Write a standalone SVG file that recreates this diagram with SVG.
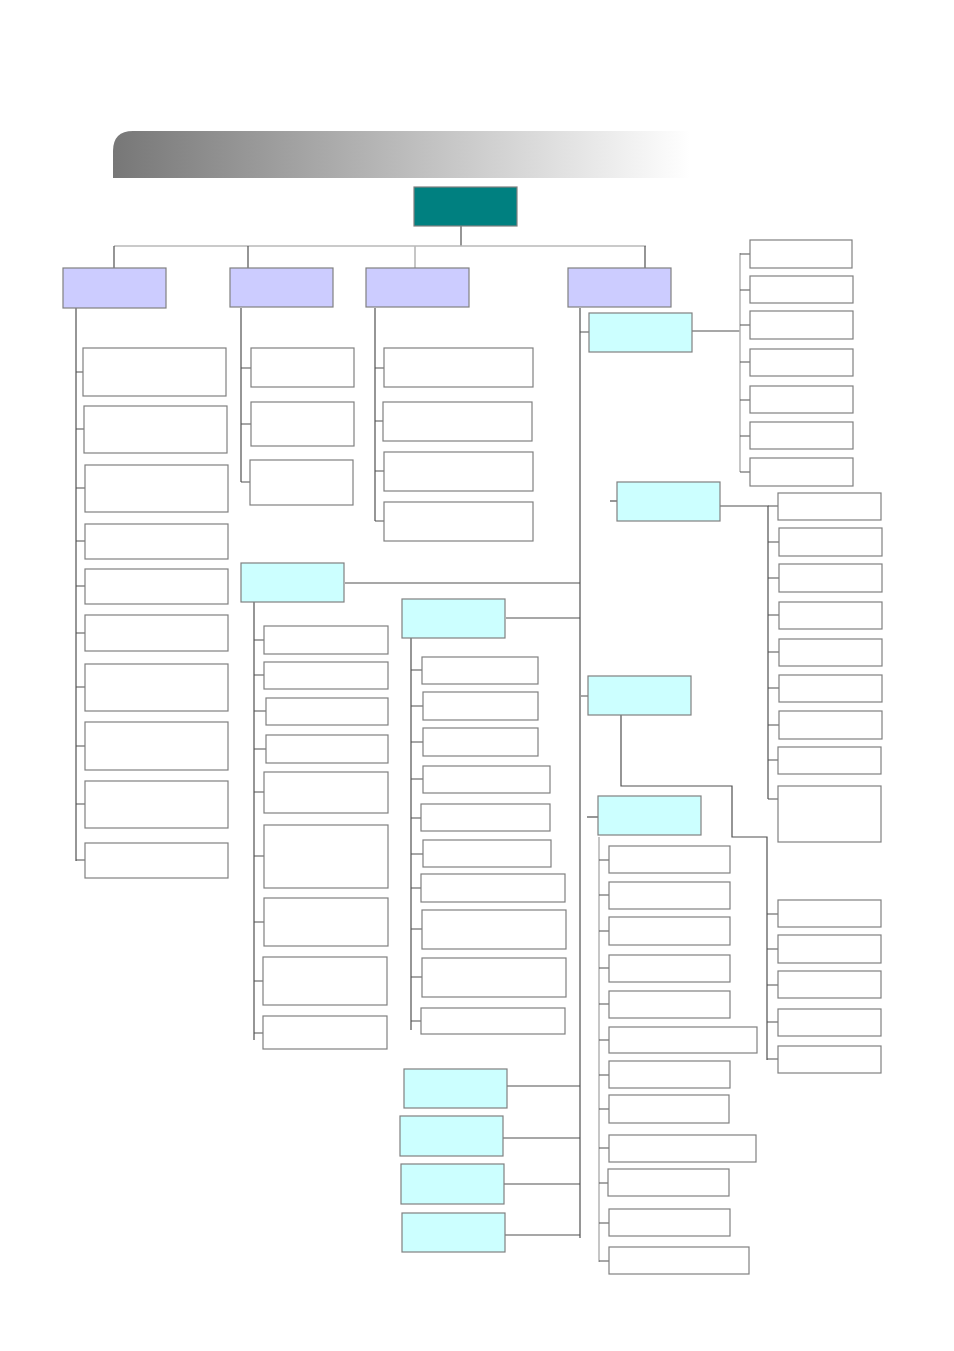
<svg xmlns="http://www.w3.org/2000/svg" width="954" height="1351" viewBox="0 0 954 1351">
<style>
.b{fill:#fff;stroke:#808080;stroke-width:1.2}
.l1{fill:#ccccff;stroke:#808080;stroke-width:1.2}
.c{fill:#ccffff;stroke:#808080;stroke-width:1.2}
.r{fill:#008080;stroke:#808080;stroke-width:1.2}
.ln{fill:none;stroke:#505050;stroke-width:1.2}
.lt{fill:none;stroke:#b8b8b8;stroke-width:1.6}
</style>
<defs>
<linearGradient id="hg" x1="113" y1="0" x2="690" y2="0" gradientUnits="userSpaceOnUse">
<stop offset="0" stop-color="#777"/>
<stop offset="1" stop-color="#fff"/>
</linearGradient>
</defs>
<rect width="954" height="1351" fill="#fff"/>
<path id="header" d="M113,178 V151 Q113,131 133,131 H690 V178 Z" fill="url(#hg)"/>

<g id="connectors">
<path class="ln" d="M461,226 V246"/>
<path class="lt" d="M114,246 H646"/>
<path class="ln" d="M114,246 V268 M248,246 V268 M645,246 V268"/>
<path class="lt" d="M415,246 V268"/>
<!-- column A -->
<path class="ln" d="M76,308 V861"/>
<path class="ln" d="M76,372 H83 M76,429 H84 M76,488 H85 M76,541 H85 M76,586 H85 M76,633 H85 M76,687 H85 M76,746 H85 M76,804 H85 M76,860 H85"/>
<!-- column B -->
<path class="ln" d="M241,308 V482"/>
<path class="ln" d="M241,368 H251 M241,424 H251 M241,482 H250"/>
<!-- column C -->
<path class="ln" d="M375,308 V521"/>
<path class="ln" d="M375,368 H384 M375,421 H383 M375,471 H384 M375,521 H384"/>
<!-- column D -->
<path class="ln" d="M580,308 V1238"/>
<path class="ln" d="M580,332 H589 M581,696 H588"/>
<path class="ln" d="M345,583 H580 M506,618 H580 M507,1086 H580 M503,1138 H580 M504,1184 H580 M505,1235 H580"/>
<!-- D1 -->
<path class="ln" d="M692,331 H740"/>
<path class="lt" d="M740,253 V472"/>
<path class="ln" d="M740,254 H750 M740,290 H750 M740,325 H750 M740,362 H750 M740,400 H750 M740,436 H750 M740,472 H750"/>
<!-- D2 -->
<path class="ln" d="M610,501 H617"/>
<path class="ln" d="M720,506 H768 V799"/>
<path class="ln" d="M768,506 H778 M768,542 H779 M768,578 H779 M768,615 H779 M768,652 H779 M768,688 H779 M768,725 H779 M768,760 H778 M768,799 H778"/>
<!-- D3 -->
<path class="ln" d="M621,715 V786 H732 V837 H767 V1060"/>
<path class="ln" d="M767,914 H778 M767,949 H778 M767,985 H778 M767,1022 H778 M767,1059 H778"/>
<!-- D4 -->
<path class="ln" d="M587,817 H598"/>
<path class="lt" d="M599,837 V1262"/>
<path class="ln" d="M599,860 H609 M599,895 H609 M599,931 H609 M599,968 H609 M599,1004 H609 M599,1040 H609 M599,1075 H609 M599,1109 H609 M599,1148 H609 M599,1183 H608 M599,1223 H609 M599,1261 H609"/>
<!-- F -->
<path class="ln" d="M254,602 V1040"/>
<path class="ln" d="M254,640 H264 M254,675 H264 M254,711 H266 M254,749 H266 M254,792 H264 M254,856 H264 M254,922 H264 M254,981 H263 M254,1033 H263"/>
<!-- G -->
<path class="ln" d="M411,638 V1030"/>
<path class="ln" d="M411,670 H422 M411,706 H423 M411,742 H423 M411,779 H423 M411,818 H421 M411,854 H423 M411,888 H421 M411,929 H422 M411,977 H422 M411,1021 H421"/>
</g>

<g id="root"><rect class="r" x="414" y="187" width="103" height="39"/></g>

<g id="A"><rect class="l1" x="63" y="268" width="103" height="40"/></g>
<g id="B"><rect class="l1" x="230" y="268" width="103" height="39"/></g>
<g id="C"><rect class="l1" x="366" y="268" width="103" height="39"/></g>
<g id="D"><rect class="l1" x="568" y="268" width="103" height="39"/></g>

<g id="A-children">
<rect class="b" x="83" y="348" width="143" height="48"/>
<rect class="b" x="84" y="406" width="143" height="47"/>
<rect class="b" x="85" y="465" width="143" height="47"/>
<rect class="b" x="85" y="524" width="143" height="35"/>
<rect class="b" x="85" y="569" width="143" height="35"/>
<rect class="b" x="85" y="615" width="143" height="36"/>
<rect class="b" x="85" y="664" width="143" height="47"/>
<rect class="b" x="85" y="722" width="143" height="48"/>
<rect class="b" x="85" y="781" width="143" height="47"/>
<rect class="b" x="85" y="843" width="143" height="35"/>
</g>

<g id="B-children">
<rect class="b" x="251" y="348" width="103" height="39"/>
<rect class="b" x="251" y="402" width="103" height="44"/>
<rect class="b" x="250" y="460" width="103" height="45"/>
</g>

<g id="C-children">
<rect class="b" x="384" y="348" width="149" height="39"/>
<rect class="b" x="383" y="402" width="149" height="39"/>
<rect class="b" x="384" y="452" width="149" height="39"/>
<rect class="b" x="384" y="502" width="149" height="39"/>
</g>

<g id="D1"><rect class="c" x="589" y="313" width="103" height="39"/></g>
<g id="D1-children">
<rect class="b" x="750" y="240" width="102" height="28"/>
<rect class="b" x="750" y="276" width="103" height="27"/>
<rect class="b" x="750" y="311" width="103" height="28"/>
<rect class="b" x="750" y="349" width="103" height="27"/>
<rect class="b" x="750" y="386" width="103" height="27"/>
<rect class="b" x="750" y="422" width="103" height="27"/>
<rect class="b" x="750" y="458" width="103" height="28"/>
</g>

<g id="D2"><rect class="c" x="617" y="482" width="103" height="39"/></g>
<g id="D2-children">
<rect class="b" x="778" y="493" width="103" height="27"/>
<rect class="b" x="779" y="528" width="103" height="28"/>
<rect class="b" x="779" y="564" width="103" height="28"/>
<rect class="b" x="779" y="602" width="103" height="27"/>
<rect class="b" x="779" y="639" width="103" height="27"/>
<rect class="b" x="779" y="675" width="103" height="27"/>
<rect class="b" x="779" y="711" width="103" height="28"/>
<rect class="b" x="778" y="747" width="103" height="27"/>
<rect class="b" x="778" y="786" width="103" height="56"/>
</g>

<g id="D3"><rect class="c" x="588" y="676" width="103" height="39"/></g>
<g id="D3-children">
<rect class="b" x="778" y="900" width="103" height="27"/>
<rect class="b" x="778" y="935" width="103" height="28"/>
<rect class="b" x="778" y="971" width="103" height="27"/>
<rect class="b" x="778" y="1009" width="103" height="27"/>
<rect class="b" x="778" y="1046" width="103" height="27"/>
</g>

<g id="D4"><rect class="c" x="598" y="796" width="103" height="39"/></g>
<g id="D4-children">
<rect class="b" x="609" y="846" width="121" height="27"/>
<rect class="b" x="609" y="882" width="121" height="27"/>
<rect class="b" x="609" y="917" width="121" height="28"/>
<rect class="b" x="609" y="955" width="121" height="27"/>
<rect class="b" x="609" y="991" width="121" height="27"/>
<rect class="b" x="609" y="1027" width="148" height="26"/>
<rect class="b" x="609" y="1061" width="121" height="27"/>
<rect class="b" x="609" y="1095" width="120" height="28"/>
<rect class="b" x="609" y="1135" width="147" height="27"/>
<rect class="b" x="608" y="1169" width="121" height="27"/>
<rect class="b" x="609" y="1209" width="121" height="27"/>
<rect class="b" x="609" y="1247" width="140" height="27"/>
</g>

<g id="F"><rect class="c" x="241" y="563" width="103" height="39"/></g>
<g id="F-children">
<rect class="b" x="264" y="626" width="124" height="28"/>
<rect class="b" x="264" y="662" width="124" height="27"/>
<rect class="b" x="266" y="698" width="122" height="27"/>
<rect class="b" x="266" y="735" width="122" height="28"/>
<rect class="b" x="264" y="772" width="124" height="41"/>
<rect class="b" x="264" y="825" width="124" height="63"/>
<rect class="b" x="264" y="898" width="124" height="48"/>
<rect class="b" x="263" y="957" width="124" height="48"/>
<rect class="b" x="263" y="1016" width="124" height="33"/>
</g>

<g id="G"><rect class="c" x="402" y="599" width="103" height="39"/></g>
<g id="G-children">
<rect class="b" x="422" y="657" width="116" height="27"/>
<rect class="b" x="423" y="692" width="115" height="28"/>
<rect class="b" x="423" y="728" width="115" height="28"/>
<rect class="b" x="423" y="766" width="127" height="27"/>
<rect class="b" x="421" y="804" width="129" height="27"/>
<rect class="b" x="423" y="840" width="128" height="27"/>
<rect class="b" x="421" y="874" width="144" height="28"/>
<rect class="b" x="422" y="910" width="144" height="39"/>
<rect class="b" x="422" y="958" width="144" height="39"/>
<rect class="b" x="421" y="1008" width="144" height="26"/>
</g>

<g id="E1"><rect class="c" x="404" y="1069" width="103" height="39"/></g>
<g id="E2"><rect class="c" x="400" y="1116" width="103" height="40"/></g>
<g id="E3"><rect class="c" x="401" y="1164" width="103" height="40"/></g>
<g id="E4"><rect class="c" x="402" y="1213" width="103" height="39"/></g>
</svg>
